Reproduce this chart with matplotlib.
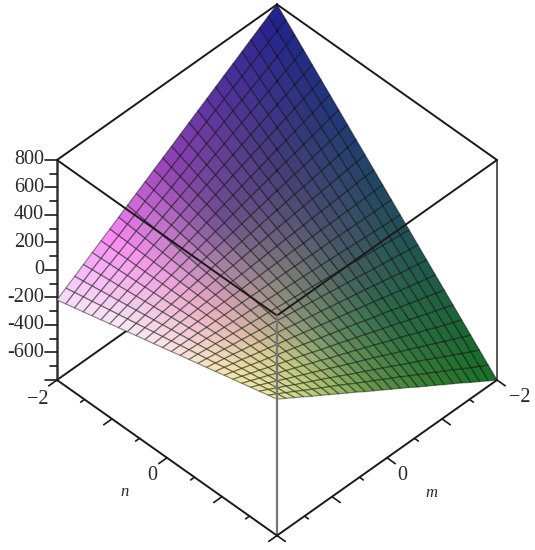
import numpy as np
import matplotlib
matplotlib.use("Agg")
import matplotlib.pyplot as plt
from mpl_toolkits.mplot3d import proj3d

plt.rcParams["font.family"] = ["Liberation Serif", "DejaVu Serif"]

m_vals = [-2 + 0.16 * i for i in range(26)]
n_vals = [-2 + 0.16 * j for j in range(26)]
z_rows = [
    [800, 736, 672, 608, 544, 480, 416, 352, 288, 224, 160, 96, 32, -32, -96, -160, -224, -288, -352, -416, -480, -544, -608, -672, -736, -800],
    [759, 698, 638, 577, 516, 455, 394, 333, 273, 212, 151, 90, 29, -31, -92, -153, -214, -275, -335, -396, -457, -518, -579, -639, -700, -761],
    [719, 661, 603, 546, 488, 431, 373, 315, 258, 200, 143, 85, 27, -30, -88, -145, -203, -261, -318, -376, -433, -491, -549, -606, -664, -721],
    [678, 623, 569, 515, 460, 406, 351, 297, 243, 188, 134, 79, 25, -29, -84, -138, -192, -247, -301, -356, -410, -464, -519, -573, -628, -682],
    [637, 586, 535, 484, 433, 382, 330, 279, 228, 177, 126, 75, 24, -27, -78, -129, -181, -232, -283, -334, -385, -436, -487, -538, -589, -640],
    [596, 548, 501, 453, 405, 357, 309, 261, 213, 165, 117, 70, 22, -26, -74, -122, -170, -218, -266, -314, -362, -410, -457, -505, -553, -601],
    [556, 511, 466, 422, 377, 332, 287, 243, 198, 153, 109, 64, 19, -25, -70, -115, -160, -204, -249, -294, -338, -383, -428, -472, -517, -562],
    [515, 473, 432, 390, 349, 307, 266, 224, 183, 141, 100, 58, 17, -24, -66, -107, -149, -190, -232, -273, -315, -356, -398, -439, -481, -522],
    [474, 436, 398, 359, 321, 283, 244, 206, 168, 129, 91, 53, 15, -24, -62, -100, -139, -177, -215, -254, -292, -330, -368, -407, -445, -483],
    [434, 398, 363, 328, 293, 258, 223, 188, 153, 118, 83, 47, 12, -23, -58, -93, -128, -163, -198, -233, -268, -304, -339, -374, -409, -444],
    [393, 361, 329, 297, 266, 234, 202, 170, 138, 107, 75, 43, 11, -21, -52, -84, -116, -148, -180, -211, -243, -275, -307, -339, -370, -402],
    [352, 324, 295, 266, 238, 209, 180, 152, 123, 95, 66, 37, 9, -20, -48, -77, -106, -134, -163, -191, -220, -249, -277, -306, -334, -363],
    [311, 286, 261, 235, 210, 184, 159, 134, 108, 83, 57, 32, 7, -19, -44, -70, -95, -120, -146, -171, -197, -222, -247, -273, -298, -324],
    [271, 248, 226, 204, 182, 160, 137, 115, 93, 71, 49, 26, 4, -18, -40, -62, -85, -107, -129, -151, -173, -196, -218, -240, -262, -284],
    [230, 211, 192, 173, 154, 135, 116, 97, 78, 59, 40, 21, 2, -17, -36, -55, -74, -93, -112, -131, -150, -169, -188, -207, -226, -245],
    [189, 173, 158, 142, 126, 110, 94, 79, 63, 47, 31, 15, 0, -16, -32, -48, -64, -79, -95, -111, -127, -143, -158, -174, -190, -206],
    [149, 136, 124, 111, 99, 86, 74, 61, 49, 36, 24, 11, -2, -14, -27, -39, -52, -64, -77, -89, -102, -114, -127, -139, -152, -164],
    [108, 98, 89, 80, 71, 61, 52, 43, 33, 24, 15, 5, -4, -13, -22, -32, -41, -50, -60, -69, -78, -88, -97, -106, -115, -125],
    [67, 61, 55, 49, 43, 36, 30, 24, 18, 12, 6, 0, -6, -12, -18, -25, -31, -37, -43, -49, -55, -61, -67, -73, -79, -86],
    [26, 23, 21, 18, 15, 12, 9, 6, 3, 0, -3, -6, -8, -11, -14, -17, -20, -23, -26, -29, -32, -35, -38, -40, -43, -46],
    [-14, -14, -14, -13, -13, -13, -12, -12, -12, -12, -11, -11, -11, -10, -10, -10, -9, -9, -9, -8, -8, -8, -7, -7, -7, -6],
    [-55, -52, -48, -45, -41, -38, -34, -31, -27, -24, -20, -17, -13, -10, -6, -3, 1, 4, 8, 11, 15, 18, 22, 25, 29, 32],
    [-96, -89, -82, -75, -69, -62, -55, -48, -41, -35, -28, -21, -14, -7, -1, 6, 13, 20, 27, 33, 40, 47, 54, 61, 67, 74],
    [-137, -127, -117, -107, -97, -87, -77, -67, -57, -47, -37, -27, -17, -7, 3, 13, 23, 33, 43, 53, 63, 73, 83, 93, 103, 113],
    [-177, -164, -151, -138, -124, -111, -98, -85, -72, -58, -45, -32, -19, -5, 8, 21, 34, 47, 61, 74, 87, 100, 113, 127, 140, 153],
    [-218, -202, -185, -169, -152, -136, -120, -103, -87, -70, -54, -38, -21, -5, 12, 28, 44, 61, 77, 94, 110, 126, 143, 159, 176, 192],
]

z_major = [800, 600, 400, 200, 0, -200, -400, -600, -800]
z_minor = [700, 500, 300, 100, -100, -300, -500, -700]
z_labels = ["800", "600", "400", "200", "0", "-200", "-400", "-600"]
xy_major = [-2, -1, 0, 1, 2]
xy_minor = [-1.5, -0.5, 0.5, 1.5]

# colour anchors on a 5x5 patch of the surface (rows m, columns n)
colour_anchor = np.array([
    [(35, 35, 140), (35, 55, 120), (35, 75, 95), (30, 95, 65), (25, 115, 35)],
    [(80, 50, 155), (70, 60, 120), (75, 85, 105), (45, 105, 72), (50, 125, 45)],
    [(145, 65, 180), (110, 80, 140), (135, 130, 125), (105, 140, 100), (90, 145, 65)],
    [(250, 135, 245), (235, 160, 220), (230, 175, 185), (210, 205, 140), (160, 195, 105)],
    [(245, 232, 250), (250, 240, 248), (252, 232, 232), (250, 232, 175), (238, 240, 170)],
]) / 255.0

M, N = np.meshgrid(m_vals, n_vals, indexing="ij")
Z = np.array(z_rows, dtype=float)

u = np.clip(M + 2 - 1e-9, 0, None)
v = np.clip(N + 2 - 1e-9, 0, None)
i0, j0 = u.astype(int), v.astype(int)
fu, fv = (u - i0)[..., None], (v - j0)[..., None]
face = ((1 - fu) * (1 - fv) * colour_anchor[i0, j0]
        + fu * (1 - fv) * colour_anchor[i0 + 1, j0]
        + (1 - fu) * fv * colour_anchor[i0, j0 + 1]
        + fu * fv * colour_anchor[i0 + 1, j0 + 1])

fig = plt.figure(figsize=(5.35, 5.5), dpi=100)
ax = fig.add_axes([0, 0, 1, 1], projection="3d", proj_type="ortho", computed_zorder=False)
ax.view_init(elev=45, azim=45)
ax.set_box_aspect((1, 1, 1))
ax.set_xlim(-2, 2, view_margin=0)
ax.set_ylim(-2, 2, view_margin=0)
ax.set_zlim(-800, 800, view_margin=0)
ax.set_axis_off()
ax.patch.set_alpha(0)

LINE = "#1a1a1a"
TEXT = "#2a2a2a"


def edge(p, q, z, lw=1.4, color=LINE):
    ax.plot([p[0], q[0]], [p[1], q[1]], [p[2], q[2]], color=color, lw=lw, zorder=z, clip_on=False,
            solid_capstyle="round")


def label(x, y, z, s, **kw):
    # text placed at the projected spot of a 3D point
    xp, yp, _ = proj3d.proj_transform(x, y, z, ax.get_proj())
    ax.text2D(xp, yp, s, transform=ax.transData, color=TEXT, zorder=4, va="center", **kw)


# box edges behind the surface
edge((2, -2, -800), (-2, -2, -800), 1)
edge((-2, 2, -800), (-2, -2, -800), 1)
edge((-2, -2, -800), (-2, -2, 800), 1)
edge((2, -2, -800), (2, -2, 800), 1, lw=1.8, color="#333333")
edge((-2, 2, -800), (-2, 2, 800), 1, color="#555555")
edge((2, -2, 800), (-2, -2, 800), 1)
edge((-2, 2, 800), (-2, -2, 800), 1)

surf = ax.plot_surface(M, N, Z, facecolors=face, rstride=1, cstride=1, shade=False,
                       edgecolor=(0, 0, 0, 0.42), linewidth=0.9, antialiased=True, zorder=2)
surf.set_clip_on(False)

# box edges in front of the surface
edge((2, -2, 800), (2, 2, 800), 3)
edge((-2, 2, 800), (2, 2, 800), 3)
edge((2, 2, 800), (2, 2, -800), 3, lw=1.6, color="#777777")
edge((2, -2, -800), (2, 2, -800), 3)
edge((-2, 2, -800), (2, 2, -800), 3)

# z ticks stick out to the left of the left edge
for zv in z_major:
    edge((2, -2, zv), (2.11, -2.11, zv), 3, lw=1.2)
for zv in z_minor:
    edge((2, -2, zv), (2.06, -2.06, zv), 3, lw=1.2)
for zv, lab in zip(z_major, z_labels):
    label(2.12, -2.12, zv, lab, ha="right", fontsize=14.5)

# ticks along n and m
for tv in xy_major:
    edge((2, tv, -800), (2.15, tv, -800), 3, lw=1.2)
    edge((tv, 2, -800), (tv, 2.15, -800), 3, lw=1.2)
for tv in xy_minor:
    edge((2, tv, -800), (2.07, tv, -800), 3, lw=1.2)
    edge((tv, 2, -800), (tv, 2.07, -800), 3, lw=1.2)
label(2.42, -1.93, -800, "\u22122", ha="center", fontsize=14.5)
label(-1.98, 2.44, -800, "\u22122", ha="center", fontsize=14.5)
label(2.36, 0.09, -800, "0", ha="center", fontsize=14.5)
label(0.09, 2.365, -800, "0", ha="center", fontsize=14.5)
label(2.82, 0.05, -800, "n", style="italic", ha="center", fontsize=12)
label(0.05, 2.85, -800, "m", style="italic", ha="center", fontsize=12)


def to_px(x, y, z):
    xp, yp, _ = proj3d.proj_transform(x, y, z, ax.get_proj())
    return ax.transData.transform((xp, yp))


# fit the cube onto the reference box corners: left (57,380), right (497,380) from the top
W, H = 535.0, 550.0
fig.canvas.draw()
left, right = to_px(2, -2, -800), to_px(-2, 2, -800)
box = 535.0 * 440.0 / (right[0] - left[0])
ax.set_position([0, 0, box / W, box / H])
fig.canvas.draw()
left = to_px(2, -2, -800)
dx, dy = 57.0 - left[0], (H - 380.0) - left[1]
ax.set_position([dx / W, dy / H, box / W, box / H])

fig.savefig("out.png", dpi=100)
